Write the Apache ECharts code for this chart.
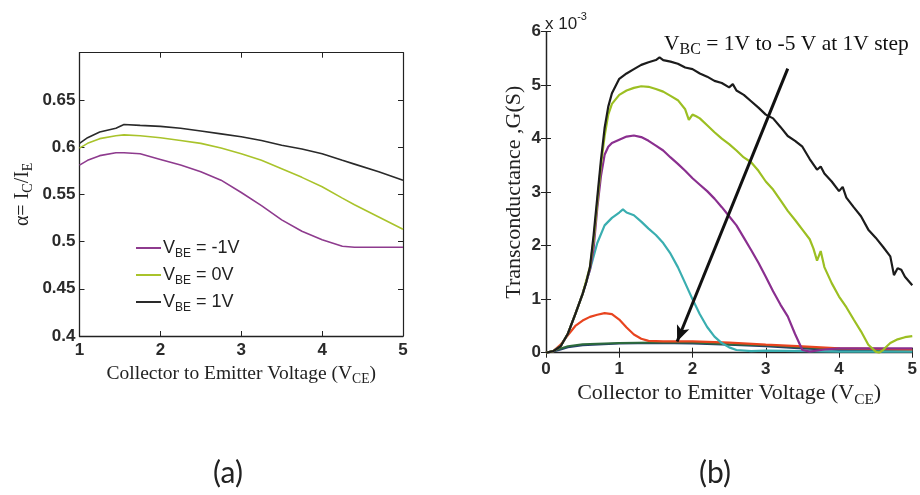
<!DOCTYPE html>
<html>
<head>
<meta charset="utf-8">
<script src="https://cdn.jsdelivr.net/npm/echarts@6/dist/echarts.min.js"></script>
<style>
  html, body { margin: 0; padding: 0; background: #fff; }
  #chart { width: 920px; height: 495px; }
</style>
</head>
<body>
<div id="chart"></div>
<script>
// (a) common gain vs VCE
const alphaVce = [1.0, 1.1, 1.25, 1.45, 1.55, 1.75, 2.0, 2.25, 2.5, 2.75, 3.0, 3.25, 3.5, 3.75, 4.0, 4.25, 4.4, 4.7, 5.0]
const alphaNeg1 = [0.581, 0.586, 0.591, 0.594, 0.594, 0.593, 0.587, 0.581, 0.574, 0.565, 0.552, 0.538, 0.523, 0.511, 0.502, 0.495, 0.494, 0.494, 0.494]
const alphaZero = [0.599, 0.604, 0.609, 0.612, 0.613, 0.612, 0.610, 0.607, 0.604, 0.599, 0.593, 0.586, 0.577, 0.568, 0.558, 0.546, 0.539, 0.526, 0.513]
const alphaPos1 = [0.604, 0.610, 0.616, 0.620, 0.624, 0.623, 0.622, 0.620, 0.617, 0.614, 0.611, 0.607, 0.602, 0.598, 0.593, 0.586, 0.582, 0.574, 0.565]
const alphaNames = ['V_BE = -1V', 'V_BE = 0V', 'V_BE = 1V']

// (b) transconductance (x 10^-3 S) vs VCE, VBC = 1V ... -5V
const gBlackX = [0, 0.1, 0.2, 0.3, 0.4, 0.5, 0.55, 0.6, 0.65, 0.7, 0.75, 0.8, 0.85, 0.9, 1.0, 1.1, 1.2, 1.3, 1.4, 1.5, 1.55, 1.6, 1.7, 1.8, 1.9, 2.0, 2.1, 2.2, 2.3, 2.4, 2.5, 2.55, 2.6, 2.7, 2.8, 2.9, 3.0, 3.1, 3.2, 3.3, 3.4, 3.5, 3.6, 3.7, 3.75, 3.8, 3.9, 4.0, 4.05, 4.1, 4.2, 4.3, 4.4, 4.5, 4.6, 4.7, 4.75, 4.8, 4.85, 4.9, 5.0]
const gBlackY = [0, 0.03, 0.12, 0.36, 0.72, 1.1, 1.32, 1.6, 2.2, 2.9, 3.6, 4.2, 4.6, 4.85, 5.12, 5.22, 5.3, 5.38, 5.43, 5.47, 5.52, 5.47, 5.44, 5.4, 5.33, 5.3, 5.22, 5.16, 5.08, 5.04, 4.96, 5.02, 4.9, 4.82, 4.7, 4.58, 4.45, 4.38, 4.22, 4.05, 3.96, 3.85, 3.62, 3.42, 3.48, 3.35, 3.2, 3.02, 3.1, 2.9, 2.72, 2.55, 2.3, 2.15, 1.98, 1.8, 1.45, 1.58, 1.55, 1.42, 1.26]
const gGreenX = [0, 0.1, 0.2, 0.3, 0.4, 0.5, 0.6, 0.65, 0.7, 0.75, 0.8, 0.85, 0.9, 1.0, 1.1, 1.2, 1.3, 1.4, 1.5, 1.6, 1.7, 1.8, 1.9, 1.95, 2.0, 2.05, 2.1, 2.2, 2.3, 2.4, 2.5, 2.6, 2.7, 2.8, 2.9, 3.0, 3.1, 3.2, 3.3, 3.4, 3.5, 3.6, 3.65, 3.7, 3.75, 3.8, 3.9, 4.0, 4.1, 4.2, 4.3, 4.4, 4.5, 4.55, 4.6, 4.7, 4.8, 4.9, 5.0]
const gGreenY = [0, 0.03, 0.12, 0.36, 0.72, 1.1, 1.6, 2.1, 2.8, 3.5, 4.05, 4.45, 4.65, 4.82, 4.9, 4.95, 4.98, 4.97, 4.93, 4.88, 4.8, 4.72, 4.55, 4.35, 4.45, 4.42, 4.38, 4.25, 4.12, 4.0, 3.9, 3.78, 3.65, 3.56, 3.4, 3.2, 3.05, 2.85, 2.65, 2.48, 2.3, 2.12, 1.95, 1.72, 1.9, 1.6, 1.3, 1.05, 0.85, 0.62, 0.4, 0.15, 0.02, 0, 0.05, 0.18, 0.25, 0.29, 0.31]
const gPurpleX = [0, 0.1, 0.2, 0.3, 0.4, 0.5, 0.6, 0.65, 0.7, 0.75, 0.8, 0.85, 0.9, 1.0, 1.1, 1.2, 1.3, 1.4, 1.5, 1.6, 1.7, 1.8, 1.9, 2.0, 2.1, 2.2, 2.3, 2.4, 2.5, 2.6, 2.7, 2.8, 2.9, 3.0, 3.1, 3.2, 3.3, 3.4, 3.5, 3.6, 3.8, 4.0, 4.5, 5.0]
const gPurpleY = [0, 0.03, 0.12, 0.36, 0.72, 1.1, 1.55, 1.95, 2.7, 3.3, 3.7, 3.85, 3.92, 3.98, 4.04, 4.06, 4.03, 3.96, 3.87, 3.78, 3.65, 3.53, 3.4, 3.26, 3.14, 3.02, 2.88, 2.72, 2.55, 2.38, 2.15, 1.92, 1.68, 1.42, 1.15, 0.9, 0.68, 0.35, 0.05, 0.02, 0.06, 0.08, 0.08, 0.08]
const gCyanX = [0, 0.1, 0.2, 0.3, 0.4, 0.5, 0.6, 0.7, 0.8, 0.9, 1.0, 1.05, 1.1, 1.2, 1.3, 1.4, 1.5, 1.6, 1.7, 1.8, 1.9, 2.0, 2.1, 2.2, 2.3, 2.4, 2.5, 2.6, 2.8, 3.0, 4.0, 5.0]
const gCyanY = [0, 0.03, 0.12, 0.36, 0.72, 1.1, 1.55, 2.05, 2.38, 2.52, 2.62, 2.68, 2.62, 2.57, 2.45, 2.32, 2.2, 2.05, 1.85, 1.6, 1.3, 1.0, 0.72, 0.48, 0.3, 0.18, 0.1, 0.05, 0.03, 0.04, 0.02, 0.02]
const gRedX = [0, 0.1, 0.2, 0.3, 0.4, 0.5, 0.6, 0.7, 0.8, 0.9, 1.0, 1.1, 1.2, 1.3, 1.4, 1.6, 2.0, 2.5, 3.0, 3.5, 4.0, 4.5, 5.0]
const gRedY = [0, 0.03, 0.15, 0.33, 0.5, 0.6, 0.67, 0.71, 0.74, 0.72, 0.62, 0.47, 0.34, 0.26, 0.22, 0.21, 0.21, 0.19, 0.15, 0.12, 0.08, 0.07, 0.05]
const gDarkGreenX = [0, 0.1, 0.2, 0.3, 0.5, 1.0, 1.5, 2.0, 2.5, 3.0, 3.5, 4.0, 5.0]
const gDarkGreenY = [0, 0.03, 0.08, 0.12, 0.16, 0.18, 0.19, 0.19, 0.16, 0.14, 0.1, 0.07, 0.05]
const gNavyX = [0, 0.1, 0.2, 0.3, 0.5, 1.0, 1.5, 2.0, 2.5, 3.0, 3.5, 4.0, 4.2, 5.0]
const gNavyY = [0, 0.02, 0.06, 0.1, 0.14, 0.17, 0.18, 0.17, 0.15, 0.12, 0.08, 0.05, 0.04, 0.03]

const arrowStart = [3.3, 5.31]
const arrowEnd = [1.79, 0.21]

const pairs = (xs, ys) => xs.map((x, i) => [x, ys[i]])

const tickFont = { fontFamily: 'Liberation Sans, Arial, sans-serif', fontSize: 17, fontWeight: 'bold', color: '#2a2a2a' }
const serif = 'Liberation Serif, Times New Roman, serif'

function frameAxes(gridIndex, xMin, xMax, yMin, yMax, yInterval) {
  const tick = { inside: true, length: 5, lineStyle: { color: '#222' } }
  return {
    x: { gridIndex, type: 'value', position: 'top', min: xMin, max: xMax, interval: 1,
      axisLine: { lineStyle: { color: '#222', width: 1.2 } }, axisTick: tick,
      axisLabel: { show: false }, splitLine: { show: false } },
    y: { gridIndex, type: 'value', position: 'right', min: yMin, max: yMax, interval: yInterval,
      axisLine: { lineStyle: { color: '#222', width: 1.2 } }, axisTick: tick,
      axisLabel: { show: false }, splitLine: { show: false } },
  }
}

const frameA = frameAxes(0, 1, 5, 0.4, 0.7, 0.05)
const frameB = frameAxes(1, 0, 5, 0, 6, 1)
const axisLine = { lineStyle: { color: '#222', width: 1.3 } }
const axisTick = { inside: true, length: 5, lineStyle: { color: '#222' } }

const richName = (size) => ({
  a: { fontFamily: serif, fontSize: size, color: '#222', lineHeight: size + 6 },
  s: { fontFamily: serif, fontSize: size * 0.7, color: '#222', lineHeight: size * 0.7, verticalAlign: 'bottom' },
})

const lineSeries = (name, data, color, xi, yi, width) => ({
  name, type: 'line', xAxisIndex: xi, yAxisIndex: yi, data,
  showSymbol: false, symbol: 'none', smooth: false,
  lineStyle: { color, width }, itemStyle: { color },
})

const chart = echarts.init(document.getElementById('chart'))
chart.setOption({
  animation: false,
  backgroundColor: '#fff',
  grid: [
    { left: 79.5, right: 517, top: 52.7, bottom: 159 },
    { left: 546, right: 7.3, top: 31.7, bottom: 142.3 },
  ],
  xAxis: [
    { gridIndex: 0, type: 'value', min: 1, max: 5, interval: 1,
      name: '{a|Collector to Emitter Voltage (V}{s|CE}{a|)}', nameLocation: 'middle', nameGap: 21,
      nameTextStyle: { rich: richName(19.5) },
      axisLine, axisTick, axisLabel: { ...tickFont, margin: 6 }, splitLine: { show: false } },
    { gridIndex: 1, type: 'value', min: 0, max: 5, interval: 1,
      name: '{a|Collector to Emitter Voltage (V}{s|CE}{a|)}', nameLocation: 'middle', nameGap: 24,
      nameTextStyle: { rich: richName(22) },
      axisLine, axisTick, axisLabel: { ...tickFont, margin: 8 }, splitLine: { show: false } },
    frameA.x, frameB.x,
  ],
  yAxis: [
    { gridIndex: 0, type: 'value', min: 0.4, max: 0.7, interval: 0.05,
      name: '{a|α= I}{s|C}{a|/I}{s|E}', nameLocation: 'middle', nameGap: 44, nameRotate: 90,
      nameTextStyle: { rich: richName(20) },
      axisLine, axisTick,
      axisLabel: { ...tickFont, margin: 4, formatter: v => (v > 0.68 ? '' : String(+v.toFixed(2))) },
      splitLine: { show: false } },
    { gridIndex: 1, type: 'value', min: 0, max: 6, interval: 1,
      name: 'Transconductance ,G(S)', nameLocation: 'middle', nameGap: 21, nameRotate: 90,
      nameTextStyle: { fontFamily: serif, fontSize: 22, color: '#222' },
      axisLine, axisTick, axisLabel: { ...tickFont, margin: 5 }, splitLine: { show: false } },
    frameA.y, frameB.y,
  ],
  legend: {
    left: 131, top: 234, orient: 'vertical', itemWidth: 25, itemHeight: 14, itemGap: 6,
    data: alphaNames, icon: 'path://M0,6 L25,6 L25,8 L0,8 Z',
    formatter: name => {
      const parts = name.split(' = ')
      return `{v|V}{s|${parts[0].slice(2)}}{v| = ${parts[1]}}`
    },
    textStyle: {
      padding: [0, 0, 0, -3],
      rich: {
        v: { fontFamily: 'Liberation Sans, Arial, sans-serif', fontSize: 18, color: '#222', lineHeight: 24 },
        s: { fontFamily: 'Liberation Sans, Arial, sans-serif', fontSize: 12, color: '#222', lineHeight: 12, verticalAlign: 'bottom' },
      },
    },
  },
  graphic: [
    { type: 'text', left: 545, top: 11, style: {
      text: '{a|x 10}{b|-3}', rich: {
        a: { fontFamily: 'Liberation Sans, Arial, sans-serif', fontSize: 17, fill: '#222', lineHeight: 22, verticalAlign: 'bottom' },
        b: { fontFamily: 'Liberation Sans, Arial, sans-serif', fontSize: 11, fill: '#222', lineHeight: 11, verticalAlign: 'top' },
      } } },
    { type: 'text', left: 664, top: 33, style: {
      text: '{a|V}{s|BC}{a| = 1V to -5 V at 1V step}', rich: {
        a: { fontFamily: serif, fontSize: 21.5, fill: '#111', lineHeight: 27 },
        s: { fontFamily: serif, fontSize: 16, fill: '#111', lineHeight: 16, verticalAlign: 'bottom' },
      } } },
    { type: 'text', x: 228, y: 473, style: { text: '(a)', font: '30px Lato, "Open Sans", sans-serif', fill: '#222', align: 'center', verticalAlign: 'middle' } },
    { type: 'text', x: 715, y: 473, style: { text: '(b)', font: '30px Lato, "Open Sans", sans-serif', fill: '#222', align: 'center', verticalAlign: 'middle' } },
  ],
  series: [
    lineSeries(alphaNames[0], pairs(alphaVce, alphaNeg1), '#8e3b8e', 0, 0, 1.6),
    lineSeries(alphaNames[1], pairs(alphaVce, alphaZero), '#a9c32b', 0, 0, 1.6),
    lineSeries(alphaNames[2], pairs(alphaVce, alphaPos1), '#2a2a2a', 0, 0, 1.6),
    lineSeries('VBC=-5V', pairs(gNavyX, gNavyY), '#253e6b', 1, 1, 2),
    lineSeries('VBC=-4V', pairs(gDarkGreenX, gDarkGreenY), '#2c6b3c', 1, 1, 2),
    lineSeries('VBC=-3V', pairs(gRedX, gRedY), '#e8441f', 1, 1, 2.2),
    lineSeries('VBC=-2V', pairs(gCyanX, gCyanY), '#3aaeb0', 1, 1, 2.2),
    lineSeries('VBC=-1V', pairs(gPurpleX, gPurpleY), '#8a2f8f', 1, 1, 2.2),
    lineSeries('VBC=0V', pairs(gGreenX, gGreenY), '#9cbf22', 1, 1, 2.2),
    {
      ...lineSeries('VBC=1V', pairs(gBlackX, gBlackY), '#1c1c1c', 1, 1, 2.2),
      markLine: {
        silent: true, symbol: ['none', 'arrow'], symbolSize: [10, 16],
        label: { show: false },
        lineStyle: { color: '#111', width: 3, type: 'solid' },
        data: [[{ coord: arrowStart }, { coord: arrowEnd }]],
      },
    },
  ],
})
</script>
</body>
</html>
